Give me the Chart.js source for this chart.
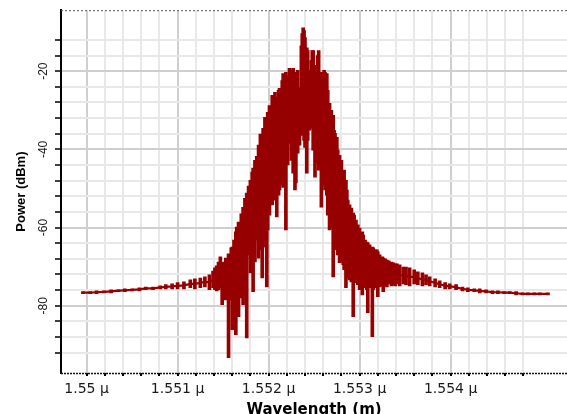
<!DOCTYPE html>
<html>
<head>
<meta charset="utf-8">
<script src="https://cdn.jsdelivr.net/npm/chart.js@4.4.1/dist/chart.umd.min.js"></script>
<style>
  html, body { margin: 0; padding: 0; background: #ffffff; }
  #wrap { width: 567px; height: 414px; }
</style>
</head>
<body>
<div id="wrap"><canvas id="c" width="567" height="414"></canvas></div>
<script>
// Wavelength samples (micrometres)
const wavelength = [
  1.54996,1.55004,1.55011,1.55019,1.55027,1.55035,1.55042,1.55050,1.55058,1.55065,
  1.55073,1.55081,1.55087,1.55094,1.55100,1.55107,1.55114,1.55119,1.55125,1.55130,
  1.55135,1.55139,1.55141,1.55143,1.55145,1.55147,1.55149,1.55151,1.55153,1.55154,
  1.55156,1.55159,1.55160,1.55162,1.55164,1.55165,1.55167,1.55170,1.55172,1.55174,
  1.55176,1.55178,1.55180,1.55182,1.55183,1.55185,1.55187,1.55189,1.55191,1.55193,
  1.55194,1.55196,1.55198,1.55199,1.55201,1.55204,1.55206,1.55207,1.55209,1.55211,
  1.55212,1.55215,1.55216,1.55218,1.55219,1.55221,1.55223,1.55225,1.55227,1.55229,
  1.55230,1.55232,1.55234,1.55236,1.55237,1.55238,1.55239,1.55240,1.55242,1.55243,
  1.55245,1.55247,1.55248,1.55249,1.55251,1.55252,1.55253,1.55254,1.55255,1.55258,
  1.55259,1.55261,1.55262,1.55264,1.55265,1.55267,1.55269,1.55271,1.55272,1.55273,
  1.55275,1.55276,1.55278,1.55280,1.55282,1.55283,1.55285,1.55286,1.55287,1.55289,
  1.55291,1.55293,1.55294,1.55296,1.55298,1.55300,1.55303,1.55304,1.55306,1.55308,
  1.55309,1.55311,1.55314,1.55315,1.55317,1.55319,1.55320,1.55322,1.55325,1.55326,
  1.55328,1.55330,1.55332,1.55335,1.55337,1.55339,1.55341,1.55344,1.55348,1.55351,
  1.55355,1.55360,1.55364,1.55369,1.55373,1.55377,1.55383,1.55388,1.55394,1.55399,
  1.55406,1.55413,1.55419,1.55426,1.55432,1.55439,1.55446,1.55452,1.55459,1.55465,
  1.55472,1.55479,1.55485,1.55492,1.55498,1.55507
];
// Upper excursion of the noisy trace at each sample (dBm)
const powerHigh = [
  -76.4,-76.4,-76.2,-76.2,-75.9,-75.9,-75.7,-75.7,-75.4,-75.2,
  -75.2,-74.9,-74.6,-74.4,-74.1,-73.9,-73.4,-73.1,-72.9,-72.6,
  -72.1,-71.1,-70.3,-69.8,-68.8,-67.5,-69.0,-68.8,-67.8,-68.3,
  -66.7,-65.2,-65.0,-63.2,-61.1,-59.9,-58.6,-56.5,-54.8,-52.5,
  -51.2,-49.4,-47.9,-45.8,-44.8,-42.8,-41.8,-38.9,-36.1,-37.7,
  -34.6,-31.8,-32.6,-30.5,-28.8,-26.2,-27.5,-25.4,-26.7,-24.9,
  -24.4,-22.4,-20.6,-21.9,-20.3,-21.1,-19.3,-19.8,-19.3,-20.3,
  -21.1,-19.8,-24.2,-13.5,-10.4,-8.9,-9.6,-11.4,-14.0,-14.7,
  -19.8,-17.3,-14.7,-14.7,-18.5,-19.8,-20.6,-16.0,-14.7,-20.3,
  -20.6,-19.8,-20.3,-20.6,-24.9,-28.2,-30.0,-31.3,-35.1,-35.9,
  -36.9,-40.2,-41.5,-42.8,-46.1,-45.3,-47.9,-50.4,-53.0,-54.2,
  -55.0,-56.3,-56.8,-58.1,-59.3,-60.1,-61.1,-61.9,-63.2,-63.7,
  -63.9,-64.4,-65.0,-65.2,-65.7,-65.7,-66.2,-67.0,-67.5,-67.8,
  -68.0,-68.3,-68.5,-68.8,-69.0,-69.3,-69.3,-69.5,-70.1,-70.1,
  -70.3,-70.8,-71.3,-71.6,-72.1,-72.6,-73.1,-73.6,-74.1,-74.4,
  -74.6,-75.2,-75.4,-75.7,-75.7,-75.9,-76.2,-76.2,-76.4,-76.4,
  -76.4,-76.7,-76.7,-76.7,-76.7,-76.7
];
// Lower excursion (including the deep downward spikes) at each sample (dBm)
const powerLow = [
  -76.9,-76.9,-76.9,-76.7,-76.7,-76.4,-76.4,-76.2,-76.2,-75.9,
  -75.9,-75.7,-75.7,-75.7,-75.7,-75.7,-75.4,-75.7,-75.4,-75.2,
  -75.9,-75.4,-75.9,-76.2,-75.9,-75.4,-79.7,-77.4,-78.5,-77.7,
  -93.3,-78.5,-86.1,-81.0,-87.4,-78.5,-82.8,-78.0,-79.7,-77.4,
  -88.2,-67.0,-71.6,-70.3,-76.4,-68.8,-63.2,-67.8,-65.7,-72.9,
  -65.0,-63.2,-75.2,-60.6,-56.8,-54.2,-53.0,-50.4,-57.3,-51.7,
  -50.4,-49.1,-49.7,-47.9,-60.6,-44.0,-38.4,-42.8,-46.1,-50.4,
  -48.6,-41.0,-38.9,-36.4,-34.4,-35.1,-37.7,-39.5,-46.1,-37.7,
  -35.1,-34.6,-33.3,-40.2,-47.1,-41.5,-42.8,-43.5,-45.3,-54.8,
  -49.1,-47.9,-50.4,-51.7,-56.8,-60.6,-60.1,-72.6,-63.2,-64.4,
  -65.7,-67.0,-69.0,-68.8,-69.5,-70.8,-75.4,-72.1,-72.9,-73.4,
  -73.9,-82.8,-74.1,-72.9,-74.6,-75.9,-77.2,-75.4,-74.6,-75.9,
  -81.8,-75.4,-87.9,-75.9,-75.2,-75.4,-77.7,-75.2,-74.9,-76.4,
  -74.6,-75.2,-74.4,-74.9,-74.6,-74.9,-74.4,-74.9,-74.4,-74.6,
  -74.9,-74.4,-74.6,-74.9,-74.6,-74.9,-75.2,-75.4,-75.7,-75.7,
  -75.9,-76.2,-76.4,-76.4,-76.7,-76.7,-76.9,-76.9,-76.9,-76.9,
  -77.2,-77.2,-77.2,-77.2,-77.2,-77.2
];
// Axis ranges and tick settings
const xRange = [1.549719, 1.555279];
const yRange = [-97.2, -4.4];
const xMajorLabels = [1.55, 1.551, 1.552, 1.553, 1.554];
const yMajorLabels = [-20, -40, -60, -80];
const xTitle = 'Wavelength (m)';
const yTitle = 'Power (dBm)';

// Each sample is drawn as a vertical stroke between its low and high excursion,
// and a thin line runs through the sample centres so the quiet wings stay continuous.
const spans = wavelength.map((w, i) => ({ x: w, y: [powerLow[i], powerHigh[i]] }));
const centre = wavelength.map((w, i) => ({ x: w, y: (powerLow[i] + powerHigh[i]) / 2 }));

const XSTEP = 0.0002, YSTEP = 4;
const isXMajor = v => xMajorLabels.some(m => Math.abs(m - v) < 1e-7);
const isYMajor = v => yMajorLabels.some(m => Math.abs(m - v) < 1e-7);
const onGrid = (v, s) => Math.abs(v / s - Math.round(v / s)) < 1e-4;

// Dotted frame lines along the bottom axis and the top edge of the plot.
const dottedFrame = {
  id: 'dottedFrame',
  afterDatasetsDraw(chart) {
    const { ctx, chartArea: a } = chart;
    ctx.save();
    ctx.setLineDash([2, 1]);
    ctx.strokeStyle = '#111111';
    ctx.lineWidth = 1.5;
    ctx.beginPath();
    ctx.moveTo(a.left, a.bottom + 0.5);
    ctx.lineTo(a.right, a.bottom + 0.5);
    ctx.stroke();
    ctx.setLineDash([2, 2]);
    ctx.strokeStyle = '#555555';
    ctx.lineWidth = 1;
    ctx.beginPath();
    ctx.moveTo(a.left, a.top + 0.5);
    ctx.lineTo(a.right, a.top + 0.5);
    ctx.stroke();
    ctx.restore();
  }
};

new Chart(document.getElementById('c'), {
  type: 'line',
  data: {
    datasets: [
      {
        type: 'bar',
        data: spans,
        backgroundColor: '#960000',
        borderWidth: 0,
        barThickness: 3,
        grouped: false
      },
      {
        type: 'line',
        data: centre,
        borderColor: '#960000',
        borderWidth: 2.2,
        pointRadius: 0,
        tension: 0,
        fill: false
      }
    ]
  },
  options: {
    responsive: false,
    animation: false,
    devicePixelRatio: 1,
    events: [],
    layout: { padding: { top: 9, right: 0, left: 0, bottom: 0 } },
    plugins: { legend: { display: false }, tooltip: { enabled: false } },
    scales: {
      x: {
        type: 'linear',
        position: 'bottom',
        offset: false,
        min: xRange[0],
        max: xRange[1],
        afterFit: s => { s.height = 41; },
        afterBuildTicks: s => {
          s.ticks = s.ticks.filter(t => onGrid(t.value, XSTEP) && t.value <= 1.55481);
        },
        ticks: {
          stepSize: XSTEP,
          autoSkip: false,
          maxRotation: 0,
          minRotation: 0,
          padding: 5,
          color: '#1a1a1a',
          font: { family: 'DejaVu Sans', size: 14 },
          callback: v => isXMajor(v) ? parseFloat(v.toFixed(4)) + ' \u00b5' : ''
        },
        grid: {
          offset: false,
          color: c => isXMajor(c.tick.value) ? '#cfcfcf' : '#e8e8e8',
          lineWidth: 2,
          drawTicks: true,
          tickLength: 3,
          tickColor: '#000000',
          tickWidth: 2
        },
        border: { display: false },
        title: {
          display: true,
          text: xTitle,
          color: '#000000',
          font: { family: 'DejaVu Sans', size: 15, weight: 'bold', lineHeight: 1 },
          padding: { top: 0, bottom: -4 }
        }
      },
      y: {
        type: 'linear',
        position: 'left',
        min: yRange[0],
        max: yRange[1],
        afterFit: s => { s.width = 61; },
        afterBuildTicks: s => {
          s.ticks = s.ticks.filter(t => onGrid(t.value, YSTEP));
        },
        ticks: {
          stepSize: YSTEP,
          autoSkip: false,
          minRotation: 90,
          maxRotation: 90,
          crossAlign: 'center',
          padding: 3,
          color: '#1a1a1a',
          font: { family: 'Liberation Sans', size: 12 },
          callback: v => isYMajor(v) ? String(v) : ''
        },
        grid: {
          color: c => isYMajor(c.tick.value) ? '#cfcfcf' : '#e8e8e8',
          lineWidth: 2,
          drawTicks: true,
          tickLength: 6,
          tickColor: '#000000',
          tickWidth: 1.5
        },
        border: { display: true, color: '#000000', width: 2 },
        title: {
          display: true,
          text: yTitle,
          color: '#000000',
          font: { family: 'Liberation Sans', size: 13, weight: 'bold', lineHeight: 1.2 },
          padding: { top: 14, bottom: 0 }
        }
      }
    }
  },
  plugins: [dottedFrame]
});
</script>
</body>
</html>
